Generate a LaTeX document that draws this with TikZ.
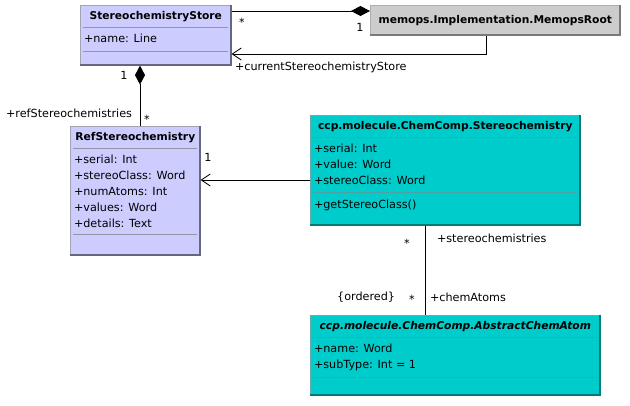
\documentclass[tikz,border=0pt]{standalone}
\usepackage{fontspec}
\setmainfont{DejaVu Sans}
\usetikzlibrary{calc,arrows.meta}
\definecolor{umllav}{HTML}{CCCCFF}
\definecolor{umllavdk}{HTML}{66667F}
\definecolor{umlcyan}{HTML}{00CCCC}
\definecolor{umlcyandk}{HTML}{007A7A}
\definecolor{umlgrey}{HTML}{CCCCCC}
\definecolor{umlgreydk}{HTML}{7A7A7A}
\tikzset{every node/.style={font=\fontsize{11.2}{16}\selectfont},
  txt/.style={inner sep=0pt,outer sep=0pt},
  lnk/.style={draw=black,line width=0.8pt},
  comp/.style={lnk,-{Diamond[length=19pt,width=10pt]}},
  nav/.style={lnk,-{Straight Barb[length=9pt,width=12pt]}}}
\newcommand{\fT}{\fontsize{10.7}{12}\selectfont\bfseries}
\newcommand{\umlbox}[7]{% name, fill, shade, x, y, w, h
  \node[draw=#3!60,fill=#2,line width=0.6pt,anchor=north west,inner sep=0pt,
    minimum width=#6pt,minimum height=#7pt] (#1) at (#4,#5) {};
  \draw[#3,line width=2pt] ([xshift=-1pt]#1.north east)
    -- ([xshift=-1pt,yshift=1pt]#1.south east) -- ([yshift=1pt]#1.south west);}
\newcommand{\sepline}[3]{% box, offset, colour
  \draw[#3,line width=0.8pt] ($(#1.north west)+(3,#2)$) -- ($(#1.north east)+(-4,#2)$);}

\begin{document}
\begin{tikzpicture}[x=1pt,y=-1pt]
  \path[use as bounding box] (0,0) rectangle (630,405);

  % Class boxes
  \umlbox{store}{umllav}{umllavdk}{80}{5}{151}{60}
  \umlbox{root}{umlgrey}{umlgreydk}{370}{5}{250}{30}
  \umlbox{ref}{umllav}{umllavdk}{70}{126}{130}{129}
  \umlbox{stereo}{umlcyan}{umlcyandk}{310}{115}{270}{110}
  \umlbox{atom}{umlcyan}{umlcyandk}{310}{315}{290}{80}

  % StereochemistryStore
  \node[txt] (store-t) at ($(store.north)+(0,12)$) {\fT StereochemistryStore};
  \sepline{store}{22}{umllavdk!70}
  \node[txt,anchor=north west] (store-a) at ($(store.north west)+(4,29)$) {+name: Line};
  \sepline{store}{46}{umllavdk!70}

  % MemopsRoot
  \node[txt] (root-t) at (root.center) {\fT memops.Implementation.MemopsRoot};

  % RefStereochemistry
  \node[txt] (ref-t) at ($(ref.north)+(0,12)$) {\fT RefStereochemistry};
  \sepline{ref}{22}{umllavdk!70}
  \node[txt,anchor=north west,align=left] (ref-a) at ($(ref.north west)+(4,29)$)
    {+serial: Int\\+stereoClass: Word\\+numAtoms: Int\\+values: Word\\+details: Text};
  \sepline{ref}{108}{umllavdk!70}

  % ccp.molecule.ChemComp.Stereochemistry
  \node[txt] (stereo-t) at ($(stereo.north)+(0,12)$) {\fT ccp.molecule.ChemComp.Stereochemistry};
  \sepline{stereo}{22}{umlcyandk!70}
  \node[txt,anchor=north west,align=left] (stereo-a) at ($(stereo.north west)+(4,29)$)
    {+serial: Int\\+value: Word\\+stereoClass: Word};
  \sepline{stereo}{77}{umlcyandk!70}
  \node[txt,anchor=north west] (stereo-o) at ($(stereo.north west)+(4,85)$) {+getStereoClass()};

  % ccp.molecule.ChemComp.AbstractChemAtom
  \node[txt] (atom-t) at ($(atom.north)+(0,12)$) {\fT\itshape ccp.molecule.ChemComp.AbstractChemAtom};
  \sepline{atom}{22}{umlcyandk!70}
  \node[txt,anchor=north west,align=left] (atom-a) at ($(atom.north west)+(4,29)$)
    {+name: Word\\+subType: Int = 1};
  \sepline{atom}{62}{umlcyandk!70}

  % Associations
  \draw[comp] ($(store.north east)+(0,6)$) -- ($(root.north west)+(0,6)$);
  \draw[nav] ($(root.south west)+(116,0)$) |- ($(store.north east)+(0,49)$);
  \draw[comp] ($(ref.north west)+(70,0)$) -- ($(store.south west)+(60,0)$);
  \draw[nav] ($(stereo.north west)+(0,65)$) -- ($(ref.north east)+(0,54)$);
  \draw[lnk] ($(stereo.south west)+(115,0)$) -- ($(atom.north west)+(115,0)$);

  % Role names and multiplicities
  \node[txt] (m1) at (242,22) {*};
  \node[txt] (m2) at (360,27) {1};
  \node[txt,anchor=west] (r1) at (235,67) {+currentStereochemistryStore};
  \node[txt] (m3) at (124,75) {1};
  \node[txt,anchor=east] (r2) at (132,113) {+refStereochemistries};
  \node[txt] (m4) at (147,119) {*};
  \node[txt] (m5) at (208,157) {1};
  \node[txt] (m6) at (407,243) {*};
  \node[txt,anchor=west] (r3) at (437,238) {+stereochemistries};
  \node[txt,anchor=east] (q1) at (395,297) {\{ordered\}};
  \node[txt] (m7) at (412,299) {*};
  \node[txt,anchor=west] (r4) at (430,297) {+chemAtoms};
\end{tikzpicture}
\end{document}
